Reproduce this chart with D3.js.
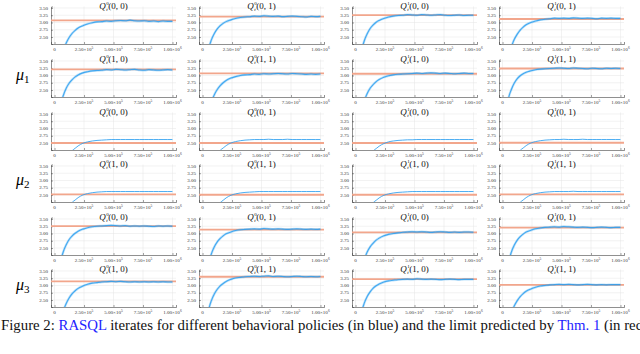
<!DOCTYPE html>
<html lang="en">
<head>
<meta charset="UTF-8">
<title>RASQL iterates</title>
<script src="https://cdn.jsdelivr.net/npm/d3@7"></script>
<style>
    body { margin: 0; background: #fff; }
    svg { display: block; }
    .tick-label { font-family: "Liberation Serif", "DejaVu Serif", serif; font-size: 5px; fill: #333; }
    .title { font-family: "Liberation Serif", "DejaVu Serif", serif; font-size: 9px; fill: #111; }
</style>
</head>
<body>
<svg width="640" height="354"></svg>
<script>
// iteration counts at which the curves are read
const iters = [0, 5e4, 7.5e4, 1e5, 1.25e5, 1.5e5, 1.75e5, 2e5, 2.4e5, 2.8e5, 3.2e5, 3.6e5, 4e5, 4.4e5,
    4.8e5, 5.2e5, 5.6e5, 6e5, 6.4e5, 6.8e5, 7.2e5, 7.6e5, 8e5, 8.4e5, 8.8e5, 9.2e5, 9.6e5, 1e6];

const xTicks = [0, 2.5e5, 5e5, 7.5e5, 1e6];
const yTicks = [2.50, 2.75, 3.00, 3.25, 3.50];

const policies = ["\u03bc1", "\u03bc2", "\u03bc3"];
// panel titles per column: [superscript, state, action]
const titlesRowA = [[0, "0, 0"], [0, "0, 1"], [1, "0, 0"], [1, "0, 1"]];
const titlesRowB = [[0, "1, 0"], [0, "1, 1"], [1, "1, 0"], [1, "1, 1"]];

// limits predicted by the theorem (red), one per panel, row by row
const limits = [
    [3.07, 3.20, 3.25, 3.12],
    [3.21, 3.07, 3.06, 3.24],
    [2.50, 2.50, 2.50, 2.51],
    [2.52, 2.51, 2.51, 2.52],
    [3.25, 3.13, 3.04, 3.20],
    [3.14, 3.30, 3.22, 3.02]
];

// RASQL iterates (blue), one per panel, row by row
const r1c0 = [0.04, 1.64, 2.04, 2.30, 2.49, 2.63, 2.73, 2.81, 2.89, 2.95, 2.99, 3.02, 3.03, 3.05, 3.04, 3.06, 3.07, 3.06, 3.08, 3.06, 3.05, 3.06, 3.04, 3.05, 3.03, 3.05, 3.04, 3.04];
const r1c1 = [0.2, 2.05, 2.40, 2.62, 2.78, 2.89, 2.97, 3.03, 3.09, 3.14, 3.17, 3.19, 3.20, 3.22, 3.21, 3.23, 3.22, 3.21, 3.22, 3.20, 3.21, 3.22, 3.21, 3.20, 3.19, 3.21, 3.20, 3.21];
const r1c2 = [0.2, 2.00, 2.38, 2.62, 2.80, 2.92, 3.01, 3.07, 3.14, 3.19, 3.22, 3.24, 3.25, 3.27, 3.26, 3.25, 3.27, 3.26, 3.25, 3.26, 3.27, 3.25, 3.24, 3.25, 3.26, 3.24, 3.25, 3.25];
const r1c3 = [0.1, 1.78, 2.16, 2.42, 2.60, 2.74, 2.84, 2.92, 3.00, 3.05, 3.09, 3.11, 3.13, 3.15, 3.14, 3.15, 3.14, 3.16, 3.15, 3.14, 3.15, 3.14, 3.13, 3.15, 3.14, 3.15, 3.14, 3.14];
const r2c0 = [0.2, 1.95, 2.32, 2.57, 2.74, 2.86, 2.95, 3.02, 3.09, 3.13, 3.16, 3.17, 3.18, 3.20, 3.19, 3.21, 3.20, 3.19, 3.20, 3.21, 3.19, 3.18, 3.20, 3.19, 3.18, 3.19, 3.20, 3.19];
const r2c1 = [0.1, 1.70, 2.08, 2.34, 2.52, 2.65, 2.75, 2.83, 2.91, 2.96, 3.00, 3.02, 3.03, 3.05, 3.04, 3.06, 3.05, 3.06, 3.07, 3.06, 3.05, 3.07, 3.06, 3.05, 3.04, 3.05, 3.04, 3.05];
const r2c2 = [0.1, 1.74, 2.13, 2.39, 2.57, 2.69, 2.79, 2.86, 2.94, 2.99, 3.02, 3.04, 3.05, 3.06, 3.07, 3.08, 3.07, 3.08, 3.09, 3.08, 3.07, 3.08, 3.07, 3.06, 3.07, 3.08, 3.07, 3.07];
const r2c3 = [0.3, 2.20, 2.52, 2.74, 2.89, 2.99, 3.06, 3.11, 3.16, 3.20, 3.22, 3.23, 3.24, 3.25, 3.26, 3.25, 3.24, 3.26, 3.25, 3.24, 3.23, 3.25, 3.24, 3.23, 3.25, 3.24, 3.25, 3.24];
const r3c0 = [0.02, 1.12, 1.62, 1.92, 2.12, 2.24, 2.32, 2.40, 2.49, 2.54, 2.57, 2.59, 2.60, 2.61, 2.62, 2.62, 2.62, 2.62, 2.62, 2.62, 2.62, 2.62, 2.62, 2.62, 2.62, 2.62, 2.62, 2.62];
const r3c1 = [0.02, 1.14, 1.64, 1.94, 2.13, 2.25, 2.33, 2.41, 2.50, 2.55, 2.58, 2.60, 2.61, 2.62, 2.62, 2.62, 2.63, 2.62, 2.62, 2.62, 2.63, 2.62, 2.62, 2.62, 2.62, 2.62, 2.62, 2.62];
const r3c2 = [0.02, 1.10, 1.60, 1.90, 2.10, 2.23, 2.31, 2.39, 2.48, 2.54, 2.57, 2.59, 2.60, 2.61, 2.61, 2.62, 2.62, 2.62, 2.62, 2.62, 2.62, 2.62, 2.62, 2.62, 2.62, 2.62, 2.62, 2.62];
const r3c3 = [0.02, 1.13, 1.63, 1.93, 2.12, 2.25, 2.33, 2.41, 2.50, 2.55, 2.58, 2.60, 2.61, 2.62, 2.62, 2.63, 2.62, 2.62, 2.62, 2.63, 2.62, 2.62, 2.62, 2.62, 2.62, 2.62, 2.62, 2.62];
const r4c0 = [0.02, 1.12, 1.62, 1.93, 2.13, 2.25, 2.33, 2.41, 2.50, 2.55, 2.58, 2.60, 2.61, 2.62, 2.62, 2.62, 2.62, 2.62, 2.62, 2.62, 2.62, 2.62, 2.62, 2.62, 2.62, 2.62, 2.62, 2.62];
const r4c1 = [0.02, 1.13, 1.63, 1.93, 2.12, 2.24, 2.32, 2.40, 2.49, 2.54, 2.57, 2.59, 2.60, 2.61, 2.62, 2.62, 2.62, 2.62, 2.62, 2.62, 2.62, 2.62, 2.62, 2.62, 2.62, 2.62, 2.62, 2.62];
const r4c2 = [0.02, 1.11, 1.61, 1.91, 2.11, 2.24, 2.32, 2.40, 2.49, 2.54, 2.57, 2.59, 2.60, 2.61, 2.62, 2.62, 2.62, 2.62, 2.62, 2.62, 2.62, 2.62, 2.62, 2.62, 2.62, 2.62, 2.62, 2.62];
const r4c3 = [0.02, 1.14, 1.64, 1.94, 2.13, 2.25, 2.33, 2.41, 2.50, 2.55, 2.58, 2.60, 2.61, 2.62, 2.62, 2.62, 2.62, 2.63, 2.62, 2.62, 2.62, 2.62, 2.62, 2.62, 2.62, 2.62, 2.62, 2.62];
const r5c0 = [0.2, 2.00, 2.38, 2.62, 2.80, 2.92, 3.01, 3.08, 3.15, 3.20, 3.23, 3.25, 3.26, 3.27, 3.28, 3.27, 3.26, 3.27, 3.25, 3.26, 3.25, 3.26, 3.25, 3.24, 3.26, 3.25, 3.26, 3.25];
const r5c1 = [0.2, 1.92, 2.30, 2.54, 2.71, 2.83, 2.92, 2.99, 3.05, 3.10, 3.13, 3.14, 3.15, 3.16, 3.15, 3.17, 3.16, 3.15, 3.16, 3.15, 3.14, 3.15, 3.16, 3.15, 3.14, 3.15, 3.14, 3.15];
const r5c2 = [0.1, 1.72, 2.11, 2.37, 2.55, 2.67, 2.77, 2.84, 2.92, 2.97, 3.00, 3.02, 3.04, 3.05, 3.06, 3.05, 3.06, 3.05, 3.04, 3.05, 3.06, 3.05, 3.04, 3.05, 3.04, 3.05, 3.05, 3.04];
const r5c3 = [0.2, 1.98, 2.36, 2.60, 2.77, 2.89, 2.98, 3.05, 3.11, 3.16, 3.19, 3.21, 3.22, 3.23, 3.22, 3.24, 3.23, 3.22, 3.21, 3.22, 3.21, 3.20, 3.21, 3.22, 3.21, 3.20, 3.21, 3.21];
const r6c0 = [0.1, 1.75, 2.13, 2.39, 2.58, 2.72, 2.82, 2.90, 2.98, 3.04, 3.08, 3.10, 3.12, 3.13, 3.14, 3.13, 3.14, 3.13, 3.12, 3.13, 3.12, 3.13, 3.12, 3.13, 3.12, 3.13, 3.12, 3.12];
const r6c1 = [0.2, 2.12, 2.48, 2.71, 2.87, 2.99, 3.07, 3.14, 3.21, 3.26, 3.28, 3.30, 3.31, 3.32, 3.31, 3.32, 3.33, 3.31, 3.32, 3.31, 3.30, 3.31, 3.32, 3.31, 3.30, 3.31, 3.30, 3.31];
const r6c2 = [0.2, 2.04, 2.40, 2.63, 2.79, 2.91, 2.99, 3.05, 3.12, 3.16, 3.18, 3.20, 3.21, 3.22, 3.21, 3.23, 3.22, 3.21, 3.22, 3.21, 3.20, 3.21, 3.22, 3.21, 3.20, 3.21, 3.21, 3.21];
const r6c3 = [0.1, 1.68, 2.05, 2.30, 2.48, 2.62, 2.72, 2.80, 2.88, 2.94, 2.98, 3.00, 3.02, 3.03, 3.04, 3.03, 3.04, 3.03, 3.02, 3.03, 3.04, 3.03, 3.02, 3.03, 3.02, 3.03, 3.03, 3.03];

const iterates = [
    [r1c0, r1c1, r1c2, r1c3],
    [r2c0, r2c1, r2c2, r2c3],
    [r3c0, r3c1, r3c2, r3c3],
    [r4c0, r4c1, r4c2, r4c3],
    [r5c0, r5c1, r5c2, r5c3],
    [r6c0, r6c1, r6c2, r6c3]
];

// layout
const colLeft = [51, 199, 352, 499],
    rowAxis = [44, 97, 150, 202, 255, 307],
    plotW = 125,
    plotH = 37.5;

const svg = d3.select("svg");
const defs = svg.append("defs");

const blue = "#2c9ff0",
    red = "#f2a68c";

iterates.forEach(function(row, ri) {
    row.forEach(function(vals, ci) {
        const x0 = colLeft[ci], y0 = rowAxis[ri];
        const x = d3.scaleLinear().domain([-3e4, 1.03e6]).range([x0, x0 + plotW]);
        const y = d3.scaleLinear().domain([2.26, 3.55]).range([y0, y0 - plotH]);
        const g = svg.append("g");

        // grid
        g.append("g").selectAll("line").data(xTicks).join("line")
            .attr("x1", d => x(d)).attr("x2", d => x(d))
            .attr("y1", y0).attr("y2", y0 - plotH)
            .attr("stroke", "#e4e4e4").attr("stroke-width", 0.5);
        g.append("g").selectAll("line").data(yTicks).join("line")
            .attr("x1", x0).attr("x2", x0 + plotW)
            .attr("y1", d => y(d)).attr("y2", d => y(d))
            .attr("stroke", "#e4e4e4").attr("stroke-width", 0.5);

        // axes
        const xAxis = g.append("g").attr("transform", "translate(0," + y0 + ")")
            .call(d3.axisBottom(x).tickValues(xTicks).tickSize(-2).tickFormat(""));
        const yAxis = g.append("g").attr("transform", "translate(" + x0 + ",0)")
            .call(d3.axisLeft(y).tickValues(yTicks).tickSize(-2).tickFormat(""));
        [xAxis, yAxis].forEach(function(a) {
            a.select(".domain").attr("stroke", "#444").attr("stroke-width", 0.6);
            a.selectAll(".tick line").attr("stroke", "#444").attr("stroke-width", 0.5);
        });

        // tick labels
        g.append("g").selectAll("text").data(yTicks).join("text")
            .attr("class", "tick-label")
            .attr("x", x0 - 3).attr("y", d => y(d) + 1.7)
            .attr("text-anchor", "end")
            .text(d => d.toFixed(2));
        const xl = g.append("g").selectAll("text").data(xTicks).join("text")
            .attr("class", "tick-label")
            .attr("x", d => x(d)).attr("y", y0 + 6.5)
            .attr("text-anchor", "middle");
        xl.each(function(d) {
            const t = d3.select(this);
            if (d === 0) { t.text("0"); return; }
            const e = Math.floor(Math.log10(d));
            t.append("tspan").text((d / Math.pow(10, e)).toFixed(2) + "\u00d710");
            t.append("tspan").attr("dy", -2).attr("font-size", 3.5).text(e);
        });

        // clip
        const id = "clip" + ri + "_" + ci;
        defs.append("clipPath").attr("id", id).append("rect")
            .attr("x", x0).attr("y", y0 - plotH).attr("width", plotW).attr("height", plotH);

        const plot = g.append("g").attr("clip-path", "url(#" + id + ")");

        // predicted limit
        plot.append("line")
            .attr("x1", x0).attr("x2", x0 + plotW)
            .attr("y1", y(limits[ri][ci])).attr("y2", y(limits[ri][ci]))
            .attr("stroke", red).attr("stroke-width", 1.8);

        // iterates
        const line = d3.line().x((d, i) => x(iters[i])).y(d => y(d)).curve(d3.curveMonotoneX);
        const noisy = ri < 2 || ri > 3;
        if (noisy) {
            plot.append("path").datum(vals).attr("d", line)
                .attr("fill", "none").attr("stroke", blue)
                .attr("stroke-opacity", 0.3).attr("stroke-width", 2.4);
        }
        plot.append("path").datum(vals).attr("d", line)
            .attr("fill", "none").attr("stroke", blue)
            .attr("stroke-opacity", 0.85).attr("stroke-width", noisy ? 1.1 : 1);

        // title
        const tt = (ri % 2 === 0 ? titlesRowA : titlesRowB)[ci];
        const title = g.append("text").attr("class", "title")
            .attr("x", x0 + plotW / 2).attr("y", y0 - 35.5)
            .attr("text-anchor", "middle");
        title.append("tspan").attr("font-style", "italic").text("Q");
        title.append("tspan").attr("dx", 0.4).attr("dy", -3.6).attr("font-size", 5).text(tt[0]);
        title.append("tspan").attr("dx", -2.5).attr("dy", 5.8).attr("font-size", 5).attr("font-style", "italic").text("t");
        title.append("tspan").attr("dx", 0.6).attr("dy", -2.2).text("(" + tt[1] + ")");
    });
});

// policy labels
policies.forEach(function(p, i) {
    const cy = rowAxis[2 * i + 1] - 22;
    const t = svg.append("text")
        .attr("x", 16).attr("y", cy + 5)
        .attr("font-family", "Liberation Serif, DejaVu Serif, serif")
        .attr("font-size", 16);
    t.append("tspan").attr("font-style", "italic").text(p[0]);
    t.append("tspan").attr("dy", 3).attr("font-size", 11).text(p[1]);
});

// caption
const cap = svg.append("text")
    .attr("x", 1).attr("y", 330)
    .attr("font-family", "Liberation Serif, DejaVu Serif, serif")
    .attr("font-size", 14.8).attr("fill", "#111");
cap.append("tspan").text("Figure 2: ");
cap.append("tspan").attr("fill", "#2323ff").text("RASQL");
cap.append("tspan").text(" iterates for different behavioral policies (in blue) and the limit predicted by ");
cap.append("tspan").attr("fill", "#2323ff").text("Thm. 1");
cap.append("tspan").text(" (in red)");
</script>
</body>
</html>
